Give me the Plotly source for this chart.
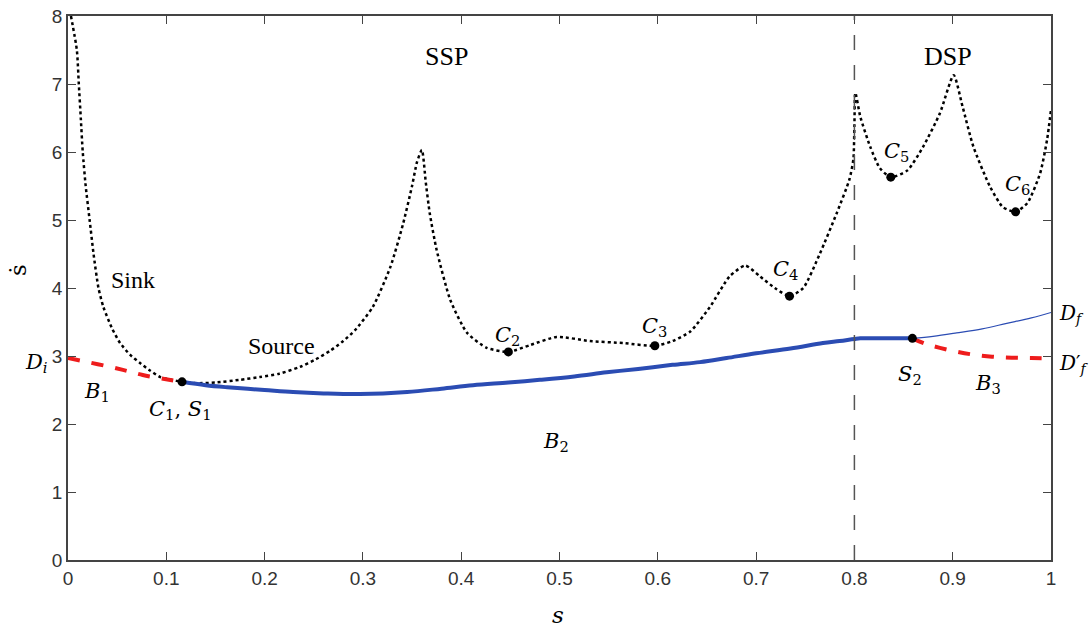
import plotly.graph_objects as go

# Maximum velocity curve (dotted)
mvc_s = [0.003, 0.009, 0.011, 0.013, 0.015, 0.018, 0.022, 0.026, 0.031, 0.036, 0.045, 0.053, 0.063, 0.073,
         0.083, 0.094, 0.105, 0.116, 0.13, 0.15, 0.175, 0.195, 0.215, 0.236, 0.252, 0.267, 0.28, 0.292,
         0.31, 0.328, 0.341, 0.35, 0.355, 0.36, 0.364, 0.368, 0.375, 0.389, 0.406, 0.426, 0.448, 0.47,
         0.497, 0.531, 0.565, 0.597, 0.615, 0.633, 0.653, 0.673, 0.689, 0.704, 0.719, 0.734, 0.748,
         0.765, 0.782, 0.795, 0.799, 0.8, 0.801, 0.806, 0.816, 0.826, 0.837, 0.854, 0.87, 0.887, 0.901,
         0.91, 0.921, 0.938, 0.951, 0.964, 0.976, 0.989, 0.996, 1.0]
mvc_v = [8.0, 7.5, 7.0, 6.5, 6.0, 5.5, 5.0, 4.5, 4.0, 3.72, 3.4, 3.19, 3.02, 2.9,
         2.79, 2.69, 2.65, 2.62, 2.6, 2.61, 2.65, 2.69, 2.74, 2.84, 2.95, 3.08, 3.22, 3.38,
         3.72, 4.31, 4.95, 5.5, 5.85, 6.03, 5.55, 5.1, 4.56, 3.82, 3.34, 3.12, 3.06, 3.16,
         3.28, 3.22, 3.19, 3.15, 3.22, 3.36, 3.72, 4.17, 4.33, 4.17, 4.0, 3.88, 4.0,
         4.51, 5.1, 5.6, 5.9, 6.4, 6.87, 6.52, 6.08, 5.76, 5.63, 5.73, 6.08, 6.57, 7.13,
         6.67, 6.08, 5.49, 5.19, 5.12, 5.25, 5.69, 6.18, 6.62]

# Backward segment B1 (red dashed)
b1_s = [0.0, 0.02, 0.043, 0.06, 0.076, 0.095, 0.116]
b1_v = [2.97, 2.91, 2.84, 2.78, 2.72, 2.67, 2.62]

# Forward segment B2 (blue thick)
b2_s = [0.116, 0.14, 0.162, 0.2, 0.229, 0.26, 0.297, 0.345, 0.38, 0.412, 0.448, 0.48, 0.515,
        0.548, 0.58, 0.615, 0.643, 0.67, 0.7, 0.735, 0.768, 0.785, 0.8, 0.806, 0.83, 0.859]
b2_v = [2.62, 2.57, 2.54, 2.5, 2.47, 2.45, 2.44, 2.47, 2.52, 2.57, 2.61, 2.65, 2.7,
        2.76, 2.81, 2.87, 2.91, 2.97, 3.04, 3.11, 3.19, 3.22, 3.25, 3.26, 3.26, 3.26]

# Forward continuation to D_f (thin blue)
df_s = [0.859, 0.88, 0.904, 0.93, 0.955, 0.98, 1.0]
df_v = [3.26, 3.29, 3.34, 3.4, 3.48, 3.56, 3.64]

# Backward segment B3 (red dashed)
b3_s = [0.859, 0.872, 0.887, 0.905, 0.921, 0.94, 0.96, 0.98, 1.0]
b3_v = [3.26, 3.18, 3.12, 3.06, 3.02, 2.99, 2.975, 2.97, 2.965]

# Critical / switching points
pts_s = [0.116, 0.448, 0.597, 0.734, 0.837, 0.964, 0.859]
pts_v = [2.62, 3.06, 3.15, 3.88, 5.63, 5.12, 3.26]

x_ticks = [0, 0.1, 0.2, 0.3, 0.4, 0.5, 0.6, 0.7, 0.8, 0.9, 1]
x_tick_text = ["0", "0.1", "0.2", "0.3", "0.4", "0.5", "0.6", "0.7", "0.8", "0.9", "1"]
y_ticks = [0, 1, 2, 3, 4, 5, 6, 7, 8]

blue = "#2b4cb3"
red = "#ee1c1c"
tickfont = dict(family="Liberation Sans, Arial", size=19, color="#333")
serif = "Liberation Serif, Times New Roman, serif"
mathf = "DejaVu Serif, serif"

fig = go.Figure()
fig.add_trace(go.Scatter(x=mvc_s, y=mvc_v, mode="lines",
                         line=dict(color="black", width=2.5, dash="dot", shape="spline", smoothing=0.6)))
fig.add_trace(go.Scatter(x=b1_s, y=b1_v, mode="lines",
                         line=dict(color=red, width=4, dash="dash", shape="spline")))
fig.add_trace(go.Scatter(x=b3_s, y=b3_v, mode="lines",
                         line=dict(color=red, width=4, dash="dash", shape="spline")))
fig.add_trace(go.Scatter(x=df_s, y=df_v, mode="lines",
                         line=dict(color=blue, width=1.2, shape="spline")))
fig.add_trace(go.Scatter(x=b2_s, y=b2_v, mode="lines",
                         line=dict(color=blue, width=4, shape="spline")))
fig.add_trace(go.Scatter(x=pts_s, y=pts_v, mode="markers", marker=dict(color="black", size=9),
                         cliponaxis=False))

fig.add_shape(type="line", x0=0.8, x1=0.8, y0=0, y1=8, xref="x", yref="y",
              line=dict(color="#555", width=1.5, dash="longdash"))

def ann(x, y, text, font, size, xref="x", yref="y", angle=0, xanchor="center", yanchor="middle"):
    fig.add_annotation(x=x, y=y, text=text, xref=xref, yref=yref, showarrow=False, textangle=angle,
                       xanchor=xanchor, yanchor=yanchor,
                       font=dict(family=font, size=size, color="black"))

ann(0.385, 7.4, "SSP", serif, 26)
ann(0.895, 7.4, "DSP", serif, 26)
ann(0.066, 4.12, "Sink", serif, 24)
ann(0.217, 3.15, "Source", serif, 24)
ann(0.03, 2.47, "<i>B</i><sub>1</sub>", mathf, 21)
ann(0.114, 2.2, "<i>C</i><sub>1</sub>, <i>S</i><sub>1</sub>", mathf, 21)
ann(0.447, 3.3, "<i>C</i><sub>2</sub>", mathf, 21)
ann(0.597, 3.42, "<i>C</i><sub>3</sub>", mathf, 21)
ann(0.73, 4.27, "<i>C</i><sub>4</sub>", mathf, 21)
ann(0.843, 6.0, "<i>C</i><sub>5</sub>", mathf, 21)
ann(0.966, 5.51, "<i>C</i><sub>6</sub>", mathf, 21)
ann(0.496, 1.74, "<i>B</i><sub>2</sub>", mathf, 21)
ann(0.857, 2.72, "<i>S</i><sub>2</sub>", mathf, 21)
ann(0.936, 2.59, "<i>B</i><sub>3</sub>", mathf, 21)
ann(-0.018, 0.362, "<i>D</i><sub><i>i</i></sub>", mathf, 21, "paper", "paper", xanchor="right")
ann(1.006, 0.452, "<i>D</i><sub><i>f</i></sub>", mathf, 20, "paper", "paper", xanchor="left")
ann(1.006, 0.36, "<i>D</i>′<sub><i>f</i></sub>", mathf, 20, "paper", "paper", xanchor="left")
# axis titles
ann(0.4985, -0.101, "<i>s</i>", mathf, 23, "paper", "paper")
ann(-0.051, 0.533, "ṡ", mathf, 23, "paper", "paper", angle=-90)

fig.update_layout(
    width=1089, height=630,
    margin=dict(l=68, r=38, t=16, b=70, autoexpand=False),
    paper_bgcolor="white", plot_bgcolor="white",
    showlegend=False,
    xaxis=dict(range=[0, 1], tickvals=x_ticks, ticktext=x_tick_text, ticks="inside", ticklen=8,
               tickcolor="#444", showline=True, linecolor="#444", linewidth=1.5, mirror="ticks",
               showgrid=False, zeroline=False, tickfont=tickfont, automargin=False),
    yaxis=dict(range=[0, 8], tickvals=y_ticks, ticks="inside", ticklen=8,
               tickcolor="#444", showline=True, linecolor="#444", linewidth=1.5, mirror="ticks",
               showgrid=False, zeroline=False, tickfont=tickfont, automargin=False),
)

fig.write_html("out.html")
